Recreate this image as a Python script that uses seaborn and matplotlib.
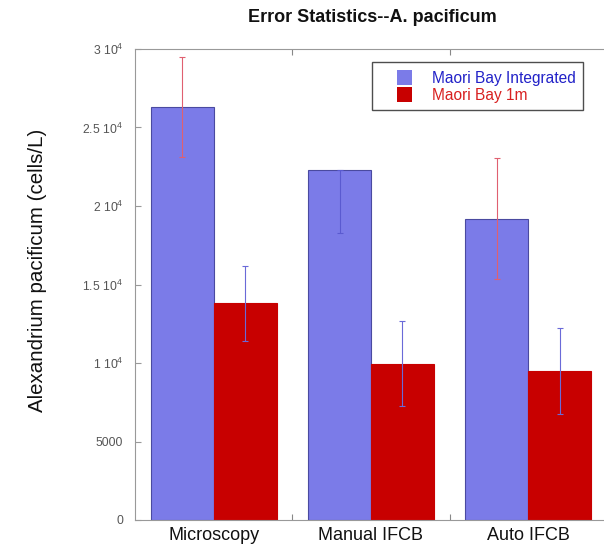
import numpy as np
import pandas as pd
import matplotlib
matplotlib.use("Agg")
import matplotlib.pyplot as plt
import seaborn as sns
from matplotlib.patches import Patch, Rectangle
from matplotlib.legend_handler import HandlerPatch

categories = ["Microscopy", "Manual IFCB", "Auto IFCB"]
series = ["Maori Bay Integrated", "Maori Bay 1m"]
integrated = [26300, 22300, 19200]
one_m = [13800, 9950, 9500]
integrated_err_low = [3200, 4000, 3850]
integrated_err_high = [3200, 0, 3850]
one_m_err_low = [2400, 2700, 2740]
one_m_err_high = [2400, 2700, 2740]
ytick_vals = [0, 5000, 10000, 15000, 20000, 25000, 30000]
ytick_labels = ["0", "5000", r"1 10$^4$", r"1.5 10$^4$", r"2 10$^4$", r"2.5 10$^4$", r"3 10$^4$"]

sns.set_theme(style="white")
plt.rcParams["font.family"] = ["Liberation Sans", "DejaVu Sans"]
plt.rcParams["mathtext.fontset"] = "custom"
plt.rcParams["mathtext.rm"] = "Liberation Sans"

df = pd.DataFrame({
    "category": categories * 2,
    "series": [series[0]] * 3 + [series[1]] * 3,
    "value": integrated + one_m,
})

bar_colors = ["#7b7be8", "#c80000"]
edge_colors = ["#4a4aa0", "#c80000"]
err_colors = ["#e06070", "#6a6ad8"]
text_colors = ["#2222c8", "#d82020"]

fig = plt.figure(figsize=(6.04, 5.47), dpi=100)
ax = fig.add_axes([135 / 604, 27 / 547, 472 / 604, 471 / 547])
sns.barplot(data=df, x="category", y="value", hue="series", order=categories,
            hue_order=series, palette=bar_colors, errorbar=None, width=0.8,
            saturation=1, ax=ax, legend=False)

errs = [(integrated, integrated_err_low, integrated_err_high),
        (one_m, one_m_err_low, one_m_err_high)]
bar_containers = list(ax.containers)
for i, cont in enumerate(bar_containers):
    vals, lo, hi = errs[i]
    for j, p in enumerate(cont):
        p.set_edgecolor(edge_colors[i])
        p.set_linewidth(0.8)
        xc = p.get_x() + p.get_width() / 2
        col = err_colors[i]
        if i == 0 and j == 1:
            col = "#5a5ad0"
        ax.errorbar(xc, vals[j], yerr=[[lo[j]], [hi[j]]], fmt="none",
                    ecolor=col, elinewidth=0.8, capsize=2.5, capthick=0.8, zorder=3)

ax.set_xlim(-0.5, 2.5)
ax.set_ylim(0, 30000)
ax.set_yticks(ytick_vals)
ax.set_yticklabels(ytick_labels, fontsize=8.8, color="#555555")
ax.tick_params(axis="y", direction="in", length=4, width=0.8, color="#999999", left=True, pad=8.5)
ax.set_xticks(range(len(categories)))
ax.set_xticklabels(categories, fontsize=13, color="#111111")
ax.tick_params(axis="x", which="major", length=0, pad=5)
ax.set_xticks([0.5, 1.5], minor=True)
ax.tick_params(axis="x", which="minor", direction="in", length=4, width=0.8,
               color="#888888", bottom=True, top=True)
ax.set_xlabel("")
ax.set_ylabel("Alexandrium pacificum (cells/L)", fontsize=14.8, color="#111111")
ax.yaxis.set_label_coords((47 - 135) / 472, (520 - 270) / 471)
for s in ["left", "bottom", "top"]:
    ax.spines[s].set_color("#999999")
    ax.spines[s].set_linewidth(0.8)
ax.spines["right"].set_visible(False)

fig.text(372 / 604, 1 - 18 / 547, "Error Statistics--A. pacificum", ha="center", va="center",
         fontsize=13, fontweight="bold", color="#111111")


def square_at_right(legend, orig_handle, xdescent, ydescent, width, height, fontsize):
    side = height
    return Rectangle((width - side - xdescent, -ydescent), side, side)


handles = [Patch(facecolor=bar_colors[k], edgecolor="none") for k in range(2)]
leg = ax.legend(handles, series, loc="upper left",
                bbox_to_anchor=((372 - 135) / 472, (520 - 62) / 471),
                fontsize=11.2, frameon=True, fancybox=False, edgecolor="#222222",
                handlelength=2.1, handleheight=1.15, borderpad=0.5, labelspacing=0.06,
                handletextpad=1.25, borderaxespad=0,
                handler_map={Patch: HandlerPatch(patch_func=square_at_right)})
leg.get_frame().set_linewidth(1.0)
for t, c in zip(leg.get_texts(), text_colors):
    t.set_color(c)

fig.savefig("out.png", dpi=100)
